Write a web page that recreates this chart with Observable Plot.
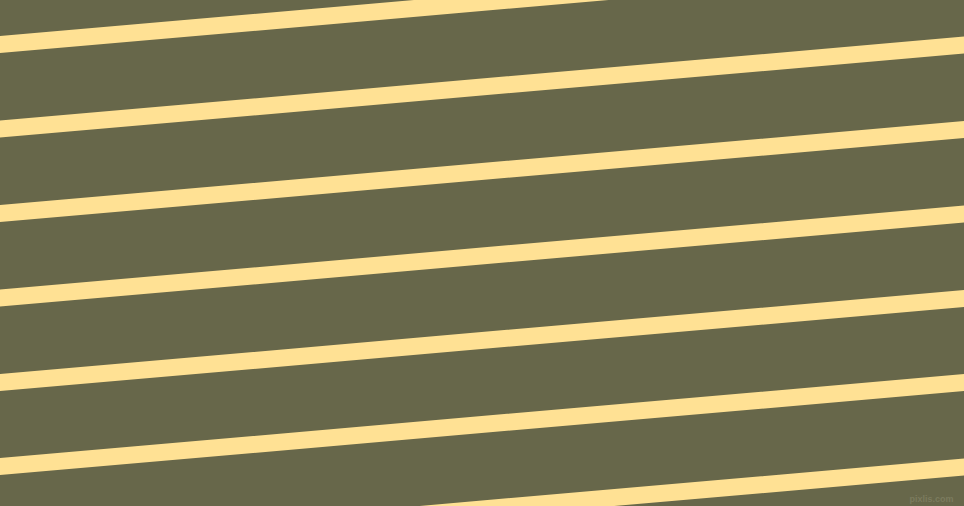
<!DOCTYPE html>
<html>
<head>
<meta charset="utf-8">
<script src="https://cdn.jsdelivr.net/npm/d3@7"></script>
<script src="https://cdn.jsdelivr.net/npm/@observablehq/plot@0.6"></script>
<style>
  html, body { margin: 0; padding: 0; background: #67674a; overflow: hidden; }
  svg { display: block; }
</style>
</head>
<body>
<div id="chart"></div>
<script>
// Stripe centre heights (px from top) at the left edge and at the right edge
const stripeIds = [0, 1, 2, 3, 4, 5, 6];
const leftY  = [44, 128.5, 213, 297.5, 382, 466, 550.5];
const rightY = [-40, 44.5, 129, 213.5, 298, 382, 466.5];
const edgeX  = [0, 964];
const watermark = ["pixlis.com"];

const pts = [];
stripeIds.forEach((id, i) => {
  pts.push({id, x: edgeX[0], y: leftY[i]});
  pts.push({id, x: edgeX[1], y: rightY[i]});
});

const chart = Plot.plot({
  width: 964,
  height: 506,
  margin: 0,
  x: {domain: [0, 964], range: [0, 964], axis: null},
  y: {domain: [0, 506], range: [0, 506], axis: null},
  style: {background: "#67674a", overflow: "hidden"},
  marks: [
    Plot.line(pts, {x: "x", y: "y", z: "id", stroke: "#ffe194", strokeWidth: 16.9, strokeLinecap: "square", clip: true}),
    Plot.text(watermark, {text: d => d, frameAnchor: "bottom-right", dx: -11, dy: -5, fill: "#7b7b5e", fontSize: 9, fontWeight: "bold", fontFamily: "Liberation Sans"})
  ]
});
document.getElementById("chart").appendChild(chart);
</script>
</body>
</html>
